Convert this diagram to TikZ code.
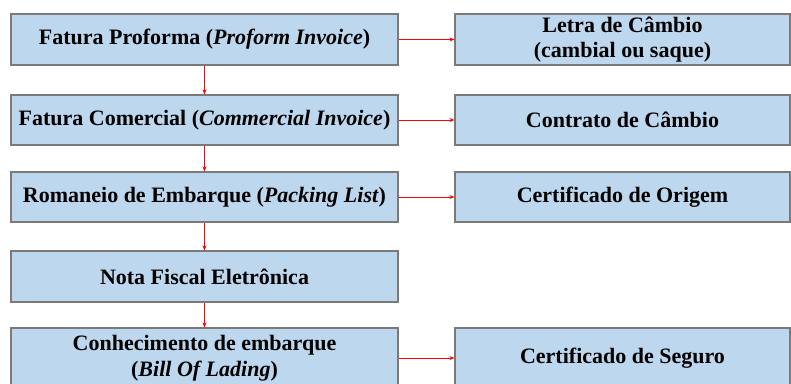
\documentclass[tikz,border=0pt]{standalone}
\usepackage{fontspec}
\setmainfont{Liberation Serif}
\usetikzlibrary{arrows.meta}
\definecolor{boxfill}{HTML}{BDD7EE}
\definecolor{boxline}{HTML}{7A7A7A}
\begin{document}
\begin{tikzpicture}[x=1pt,y=-1pt,
  docbox/.style={draw=boxline, line width=1.1pt, fill=boxfill, inner sep=0pt,
    align=center, font=\bfseries\fontsize{22}{25.5}\selectfont},
  leftbox/.style={docbox, minimum width=387pt},
  rightbox/.style={docbox, minimum width=335pt},
  flow/.style={draw=red, line width=1pt, -{Stealth[length=5pt,width=4pt]}}]
\useasboundingbox (0,0) rectangle (791,383);
\clip (0,0) rectangle (791,383);
\node[leftbox, minimum height=51pt] (a1) at (204.5,39.5) {Fatura Proforma (\textit{Proform Invoice})};
\node[leftbox, minimum height=50pt] (a2) at (204.5,120) {Fatura Comercial (\textit{Commercial Invoice})};
\node[leftbox, minimum height=50pt] (a3) at (204.5,197) {Romaneio de Embarque (\textit{Packing List})};
\node[leftbox, minimum height=51pt] (a4) at (204.5,276.5) {Nota Fiscal Eletrônica};
\node[leftbox, minimum height=60pt] (a5) at (204.5,358) {Conhecimento de embarque\\(\textit{Bill Of Lading})};
\node[rightbox, minimum height=51pt] (b1) at (622.5,39.5) {Letra de Câmbio\\(cambial ou saque)};
\node[rightbox, minimum height=50pt] (b2) at (622.5,120) {Contrato de Câmbio};
\node[rightbox, minimum height=50pt] (b3) at (622.5,197) {Certificado de Origem};
\node[rightbox, minimum height=60pt] (b5) at (622.5,358) {Certificado de Seguro};
\draw[flow] (a1) -- (a2);
\draw[flow] (a2) -- (a3);
\draw[flow] (a3) -- (a4);
\draw[flow] (a4) -- (a5);
\draw[flow] (a1) -- (b1);
\draw[flow] (a2) -- (b2);
\draw[flow] (a3) -- (b3);
\draw[flow] (a5) -- (b5);
\end{tikzpicture}
\end{document}
